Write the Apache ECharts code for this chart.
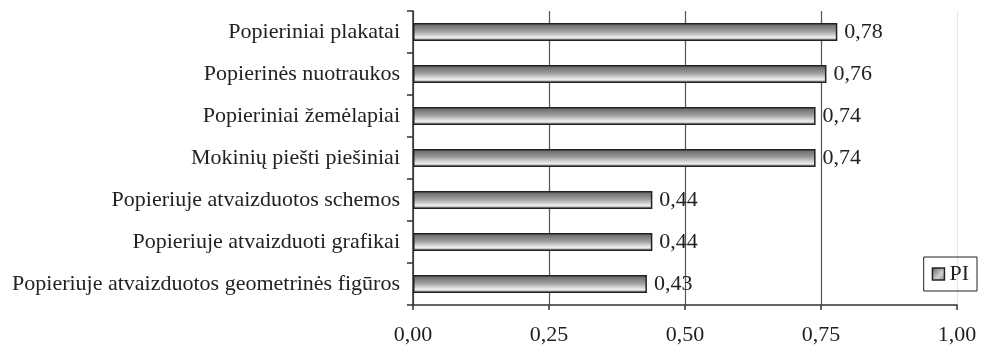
<!DOCTYPE html>
<html>
<head>
<meta charset="utf-8">
<script src="https://cdn.jsdelivr.net/npm/echarts@6/dist/echarts.min.js"></script>
<style>
  html, body { margin: 0; padding: 0; background: #fff; }
  #chart { width: 983px; height: 346px; }
</style>
</head>
<body>
<div id="chart"></div>
<script>
// Categories, listed top to bottom
const categories = [
  'Popieriniai plakatai',
  'Popierinės nuotraukos',
  'Popieriniai žemėlapiai',
  'Mokinių piešti piešiniai',
  'Popieriuje atvaizduotos schemos',
  'Popieriuje atvaizduoti grafikai',
  'Popieriuje atvaizduotos geometrinės figūros'
];
const seriesName = 'PI';
const values = [0.78, 0.76, 0.74, 0.74, 0.44, 0.44, 0.43];
const xTicks = [0, 0.25, 0.5, 0.75, 1.0];

const fontFamily = '"Liberation Serif", "Times New Roman", serif';
const fontSize = 22;
const fmt = v => v.toFixed(2).replace('.', ',');

// Cylinder-like gray fill for the bars
const barFill = new echarts.graphic.LinearGradient(0, 0, 0, 1, [
  { offset: 0, color: '#616161' },
  { offset: 0.45, color: '#9c9c9c' },
  { offset: 0.8, color: '#eeeeee' },
  { offset: 1, color: '#7a7a7a' }
]);
const iconFill = new echarts.graphic.LinearGradient(0, 0, 1, 1, [
  { offset: 0, color: '#5e5e5e' },
  { offset: 0.6, color: '#d0d0d0' },
  { offset: 1, color: '#888888' }
]);

const chart = echarts.init(document.getElementById('chart'), null, { renderer: 'canvas' });
chart.setOption({
  animation: false,
  backgroundColor: '#fff',
  grid: { left: 413, right: 26, top: 11, bottom: 41, containLabel: false },
  legend: {
    right: 6, top: 257,
    orient: 'vertical',
    data: [{ name: seriesName, itemStyle: { color: iconFill, borderColor: '#222', borderWidth: 1.5 } }],
    itemWidth: 12, itemHeight: 12, itemGap: 4,
    padding: [6, 8, 6, 8],
    borderColor: '#222', borderWidth: 1,
    textStyle: { fontFamily, fontSize, color: '#222' },
    icon: 'rect'
  },
  xAxis: {
    type: 'value',
    min: xTicks[0], max: xTicks[xTicks.length - 1], interval: 0.25,
    axisLine: { show: true, lineStyle: { color: '#333', width: 1.5 } },
    axisTick: { show: true, length: 5, lineStyle: { color: '#333', width: 1.5 } },
    axisLabel: { formatter: v => fmt(v), fontFamily, fontSize, color: '#222', margin: 19 },
    splitLine: { show: true, lineStyle: { color: ['#555', '#555', '#555', '#555', '#e6e6e6'], width: 1.2 } }
  },
  yAxis: {
    type: 'category',
    data: categories,
    inverse: true,
    axisLine: { show: true, lineStyle: { color: '#333', width: 1.5 } },
    axisTick: { show: true, length: 6, lineStyle: { color: '#333', width: 1.5 } },
    axisLabel: { fontFamily, fontSize, color: '#222', margin: 13 }
  },
  series: [{
    name: seriesName,
    type: 'bar',
    data: values,
    barWidth: 18,
    itemStyle: { color: barFill, borderColor: '#222', borderWidth: 1.5 },
    label: {
      show: true, position: 'right', distance: 7,
      formatter: p => fmt(p.value),
      fontFamily, fontSize, color: '#222'
    }
  }]
});
</script>
</body>
</html>
